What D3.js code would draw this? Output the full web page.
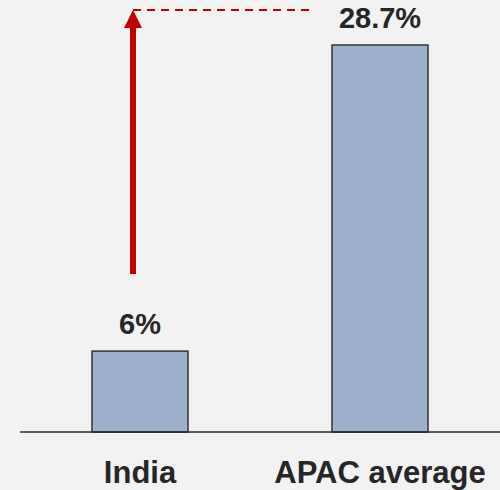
<!DOCTYPE html>
<html>
<head>
<meta charset="utf-8">
<script src="https://cdn.jsdelivr.net/npm/d3@7"></script>
<style>
html,body{margin:0;padding:0;background:#f2f2f2;}
svg{display:block;}
</style>
</head>
<body>
<script>
const categories = ["India", "APAC average"];
const values = [6, 28.7];
const valueLabels = ["6%", "28.7%"];

const W = 500, H = 490;
const svg = d3.select("body").append("svg").attr("width", W).attr("height", H);
svg.append("rect").attr("width", W).attr("height", H).attr("fill", "#f2f2f2");

const x = d3.scalePoint().domain(categories).range([20, 500]).padding(0.5);
const y = d3.scaleLinear().domain([0, 28.7]).range([432, 45]);
const barW = 96;

const font = "'Liberation Sans', Arial, sans-serif";

// bars
svg.selectAll("rect.bar").data(categories).join("rect")
  .attr("class", "bar")
  .attr("x", d => x(d) - barW / 2)
  .attr("width", barW)
  .attr("y", (d, i) => y(values[i]))
  .attr("height", (d, i) => y(0) - y(values[i]))
  .attr("fill", "#9db0cd")
  .attr("stroke", "#333333")
  .attr("stroke-width", 1.5);

// baseline
svg.append("line")
  .attr("x1", 20).attr("x2", 500)
  .attr("y1", y(0)).attr("y2", y(0))
  .attr("stroke", "#262626").attr("stroke-width", 1.5);

// value labels
svg.selectAll("text.val").data(categories).join("text")
  .attr("class", "val")
  .attr("x", d => x(d))
  .attr("y", (d, i) => y(values[i]) - 17)
  .attr("text-anchor", "middle")
  .attr("font-family", font)
  .attr("font-weight", "bold")
  .attr("font-size", 29)
  .attr("fill", "#262626")
  .text((d, i) => valueLabels[i]);

// category labels
svg.selectAll("text.cat").data(categories).join("text")
  .attr("class", "cat")
  .attr("x", d => x(d))
  .attr("y", 483)
  .attr("text-anchor", "middle")
  .attr("font-family", font)
  .attr("font-weight", "bold")
  .attr("font-size", 31)
  .attr("fill", "#262626")
  .text(d => d);

// arrow annotation
const ax = x("India") - 7;
const red = "#c00000";
svg.append("line")
  .attr("x1", ax).attr("x2", 309)
  .attr("y1", 10).attr("y2", 10)
  .attr("stroke", red).attr("stroke-width", 2)
  .attr("stroke-dasharray", "8,6");
svg.append("rect")
  .attr("x", ax - 3).attr("width", 6)
  .attr("y", 26).attr("height", 274 - 26)
  .attr("fill", red);
svg.append("path")
  .attr("d", `M${ax},10 L${ax + 9},28 L${ax - 9},28 Z`)
  .attr("fill", red);
</script>
</body>
</html>
